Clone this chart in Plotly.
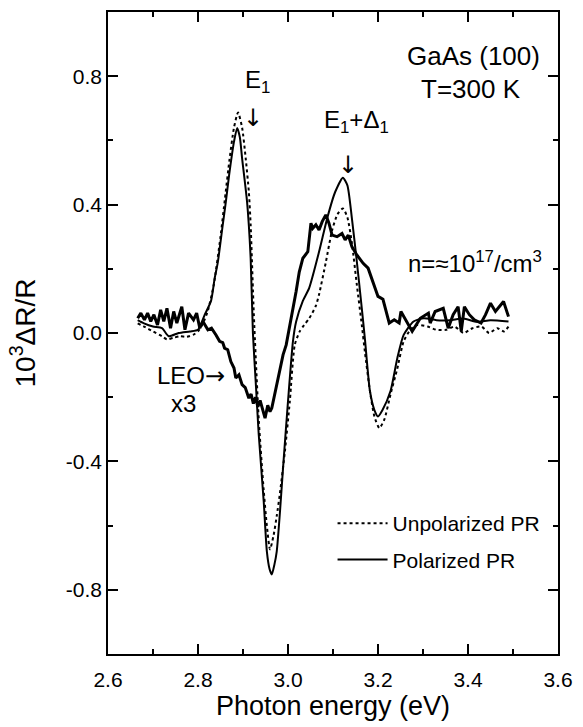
import plotly.graph_objects as go

# ---------------- data ----------------
unpol_x = [2.666, 2.68, 2.70, 2.72, 2.731, 2.745, 2.76, 2.775, 2.79, 2.80, 2.811, 2.822,
           2.835, 2.85, 2.86, 2.87, 2.88, 2.889, 2.898, 2.906, 2.913, 2.917, 2.924, 2.935,
           2.946, 2.953, 2.960, 2.968, 2.975, 2.982, 2.993, 3.004, 3.015, 3.026, 3.036,
           3.047, 3.062, 3.069, 3.084, 3.098, 3.11, 3.122, 3.132, 3.142, 3.153, 3.164,
           3.171, 3.182, 3.192, 3.203, 3.214, 3.228, 3.243, 3.257, 3.272, 3.287, 3.31,
           3.33, 3.352, 3.37, 3.39, 3.41, 3.43, 3.447, 3.465, 3.48, 3.49]
unpol_y = [0.03, 0.02, 0.005, -0.01, -0.02, -0.015, -0.01, -0.012, -0.005, 0.005, 0.03, 0.07,
           0.15, 0.30, 0.42, 0.54, 0.64, 0.687, 0.64, 0.544, 0.44, 0.337, 0.06, -0.27,
           -0.49, -0.60, -0.674, -0.63, -0.57, -0.50, -0.37, -0.213, -0.037, 0.005, 0.025,
           0.045, 0.085, 0.12, 0.22, 0.32, 0.37, 0.388, 0.36, 0.28, 0.15, 0.025,
           -0.06, -0.18, -0.26, -0.296, -0.27, -0.19, -0.11, -0.026, 0.01, 0.025, 0.02,
           0.01, 0.01, 0.02, 0.0, 0.015, 0.02, 0.0, 0.015, 0.005, 0.02]

pol_x = [2.666, 2.68, 2.70, 2.72, 2.735, 2.757, 2.782, 2.80, 2.815, 2.829, 2.837, 2.844,
         2.855, 2.862, 2.869, 2.880, 2.887, 2.893, 2.898, 2.909, 2.917, 2.922, 2.929, 2.935,
         2.946, 2.953, 2.959, 2.964, 2.970, 2.975, 2.982, 2.989, 3.000, 3.011, 3.018, 3.033,
         3.047, 3.069, 3.087, 3.105, 3.122, 3.132, 3.142, 3.153, 3.164, 3.171, 3.182, 3.192,
         3.200, 3.21, 3.228, 3.243, 3.257, 3.279, 3.302, 3.33, 3.36, 3.39, 3.42, 3.45, 3.49]
pol_y = [0.04, 0.03, 0.02, 0.015, -0.01, 0.0, 0.005, 0.01, 0.057, 0.10, 0.17, 0.22,
         0.337, 0.41, 0.49, 0.596, 0.639, 0.61, 0.544, 0.409, 0.233, 0.0, -0.17, -0.317,
         -0.524, -0.68, -0.735, -0.752, -0.72, -0.68, -0.56, -0.42, -0.213, -0.026, 0.035, 0.10,
         0.14, 0.253, 0.357, 0.44, 0.484, 0.46, 0.357, 0.222, 0.077, -0.02, -0.18, -0.24,
         -0.26, -0.24, -0.18, -0.078, -0.006, 0.036, 0.046, 0.04, 0.04, 0.045, 0.035, 0.04, 0.036]

leo_x = [2.666, 2.673, 2.681, 2.688, 2.695, 2.702, 2.710, 2.717, 2.724, 2.731, 2.739, 2.746,
         2.753, 2.764, 2.771, 2.779, 2.790, 2.797, 2.804, 2.811, 2.822, 2.830, 2.840, 2.848,
         2.855, 2.859, 2.866, 2.873, 2.880, 2.884, 2.891, 2.898, 2.905, 2.913, 2.918, 2.923,
         2.928, 2.933, 2.938, 2.943, 2.949, 2.955, 2.960, 2.964, 2.975, 2.982, 2.989, 2.996,
         3.007, 3.015, 3.018, 3.025, 3.033, 3.044, 3.051, 3.055, 3.062, 3.069, 3.076, 3.084,
         3.091, 3.098, 3.109, 3.120, 3.127, 3.134, 3.142, 3.153, 3.167, 3.178, 3.189, 3.200,
         3.211, 3.225, 3.236, 3.247, 3.251, 3.262, 3.276, 3.294, 3.312, 3.316, 3.327, 3.345,
         3.356, 3.367, 3.378, 3.385, 3.392, 3.403, 3.414, 3.429, 3.439, 3.450, 3.461, 3.479, 3.490]
leo_y = [0.046, 0.062, 0.041, 0.062, 0.036, 0.057, 0.025, 0.072, 0.036, 0.077, 0.015, 0.067,
         0.031, 0.082, 0.010, 0.062, 0.041, 0.062, 0.015, 0.036, 0.010, 0.015, -0.006, -0.026,
         -0.030, -0.047, -0.052, -0.089, -0.109, -0.140, -0.130, -0.161, -0.170, -0.203, -0.190, -0.220,
         -0.200, -0.230, -0.210, -0.235, -0.265, -0.225, -0.245, -0.234, -0.161, -0.120, -0.068, -0.037,
         0.046, 0.098, 0.129, 0.190, 0.233, 0.253, 0.342, 0.326, 0.337, 0.321, 0.347, 0.368,
         0.342, 0.305, 0.300, 0.310, 0.290, 0.305, 0.269, 0.243, 0.217, 0.202, 0.155, 0.114,
         0.105, 0.031, 0.041, 0.031, 0.067, 0.040, 0.005, 0.046, 0.062, 0.031, 0.067, 0.077,
         0.015, 0.057, 0.082, 0.005, 0.082, 0.057, 0.041, 0.031, 0.057, 0.093, 0.067, 0.098, 0.051]

x_tickvals = [2.6, 2.8, 3.0, 3.2, 3.4, 3.6]
x_ticktext = ["2.6", "2.8", "3.0", "3.2", "3.4", "3.6"]
y_tickvals = [-0.8, -0.4, 0.0, 0.4, 0.8]
y_ticktext = ["-0.8", "-0.4", "0.0", "0.4", "0.8"]

FONT = "Liberation Sans, Arial, Helvetica, sans-serif"
ARROW_FONT = "DejaVu Sans, Liberation Sans, sans-serif"

fig = go.Figure()
fig.add_trace(go.Scatter(x=unpol_x, y=unpol_y, mode="lines", name="Unpolarized PR",
                         line=dict(color="black", width=2, dash="dot", shape="spline", smoothing=0.6),
                         legendgroup="a"))
fig.add_trace(go.Scatter(x=pol_x, y=pol_y, mode="lines", name="Polarized PR",
                         line=dict(color="black", width=2, shape="spline", smoothing=0.6),
                         legendgroup="b"))
fig.add_trace(go.Scatter(x=leo_x, y=leo_y, mode="lines", name="LEO x3", showlegend=False,
                         line=dict(color="black", width=3)))

axis_common = dict(showline=True, linecolor="black", linewidth=1.5, mirror="ticks",
                   ticks="inside", tickcolor="black", tickwidth=1.5, ticklen=10,
                   showgrid=False, zeroline=False,
                   tickfont=dict(family=FONT, size=21, color="black"))

fig.update_xaxes(range=[2.6, 3.6], tickvals=x_tickvals, ticktext=x_ticktext,
                 minor=dict(ticks="inside", ticklen=5, dtick=0.1, tickcolor="black", tickwidth=1.5),
                 title=dict(text="Photon energy (eV)", font=dict(family=FONT, size=27, color="black"), standoff=2),
                 ticklabelstandoff=6, **axis_common)
fig.update_yaxes(range=[-1.0, 1.0], tickvals=y_tickvals, ticktext=y_ticktext,
                 minor=dict(ticks="inside", ticklen=5, dtick=0.2, tickcolor="black", tickwidth=1.5),
                 title=dict(text="10<sup>3</sup>ΔR/R", font=dict(family=FONT, size=28, color="black"), standoff=22),
                 ticklabelstandoff=0, **axis_common)

ann_font = dict(family=FONT, size=24, color="black")
arrow_font = dict(family=ARROW_FONT, size=24, color="black")
annotations = [
    dict(x=2.9325, y=0.785, text="E<sub>1</sub>", font=ann_font),
    dict(x=2.922, y=0.67, text="↓", font=arrow_font),
    dict(x=3.152, y=0.658, text="E<sub>1</sub>+Δ<sub>1</sub>", font=ann_font),
    dict(x=3.1335, y=0.522, text="↓", font=arrow_font),
    dict(x=3.413, y=0.862, text="GaAs (100)", font=dict(family=FONT, size=26, color="black")),
    dict(x=3.407, y=0.76, text="T=300 K", font=dict(family=FONT, size=26, color="black")),
    dict(x=3.415, y=0.222, text="n=≈10<sup>17</sup>/cm<sup>3</sup>", font=dict(family=FONT, size=24, color="black")),
    dict(x=2.864, y=-0.135, text="LEO<span style=\"font-family:DejaVu Sans\">→</span>",
         font=ann_font, xanchor="right"),
    dict(x=2.767, y=-0.22, text="x3", font=ann_font),
]
for a in annotations:
    a.setdefault("xanchor", "center")
    a.update(xref="x", yref="y", showarrow=False, yanchor="middle")
fig.update_layout(annotations=annotations)

fig.update_layout(
    width=583, height=727,
    margin=dict(l=108, r=16, t=10, b=73),
    paper_bgcolor="white", plot_bgcolor="white",
    font=dict(family=FONT, color="black"),
    showlegend=True,
    legend=dict(x=0.499, y=0.235, xanchor="left", yanchor="top",
                bgcolor="rgba(0,0,0,0)", borderwidth=0,
                font=dict(family=FONT, size=21, color="black"),
                traceorder="grouped", tracegroupgap=6, itemwidth=50),
)

fig.write_html("out.html", config={"displayModeBar": False},
               post_script="document.body.style.margin='0';document.body.style.overflow='hidden';")
